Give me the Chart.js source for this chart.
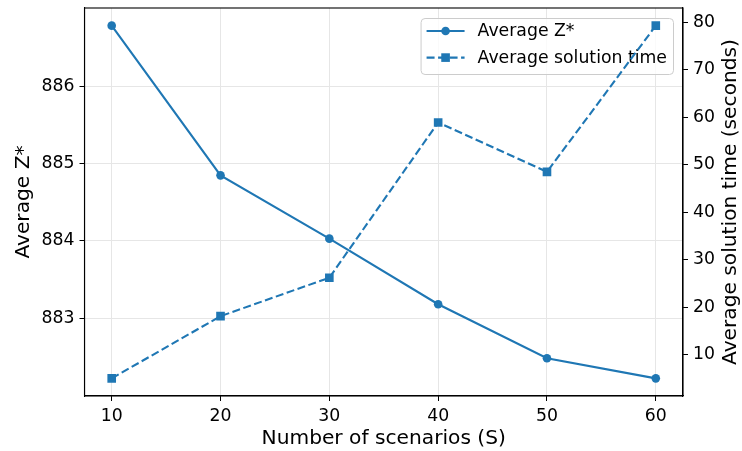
<!DOCTYPE html>
<html>
<head>
<meta charset="utf-8">
<script src="https://cdn.jsdelivr.net/npm/chart.js@4.4.1/dist/chart.umd.min.js"></script>
<style>
  html, body { margin: 0; padding: 0; background: #fff; }
  #wrap { width: 742px; height: 451px; }
</style>
</head>
<body>
<div id="wrap"><canvas id="chart" width="742" height="451"></canvas></div>
<script>
    // values
    const scenarios = [10, 20, 30, 40, 50, 60];
    const avgZ = [886.79, 884.85, 884.03, 883.18, 882.48, 882.22];
    const avgTime = [5.0, 18.1, 26.2, 58.9, 48.5, 79.3];

    const xTicks = [10, 20, 30, 40, 50, 60];
    const zTicks = [883, 884, 885, 886];
    const timeTicks = [10, 20, 30, 40, 50, 60, 70, 80];

    const blue = '#1f77b4';
    const font = 'DejaVu Sans';
    const rightTitle = 'Average solution time (seconds)';

    // matplotlib style 5% autoscale margins
    function padded(vals) {
        const lo = Math.min(...vals), hi = Math.max(...vals);
        const m = (hi - lo) * 0.05;
        return { min: lo - m, max: hi + m };
    }
    const xr = padded(scenarios);
    const zr = padded(avgZ);
    const tr = padded(avgTime);

    const fixTicks = (list) => (scale) => {
        scale.ticks = list.map(v => ({ value: v }));
    };

    const fitY = (w) => (s) => {
        s.width = w;
        s.paddingTop = 0;
        s.paddingBottom = 0;
    };

    // legend sits under the lines, frame + right title on top
    const framePlugin = {
        id: 'frame',
        beforeDatasetsDraw(chart) {
            const ctx = chart.ctx;
            const a = chart.chartArea;
            ctx.save();
            ctx.font = '17.3px "' + font + '"';
            const sets = chart.data.datasets;
            let tw = 0;
            sets.forEach(d => { tw = Math.max(tw, ctx.measureText(d.label).width); });
            const w = 6 + 38 + 13 + tw + 6;
            const h = 56;
            const x0 = a.right - 10 - w;
            const y0 = a.top + 10;
            ctx.fillStyle = 'rgba(255,255,255,0.8)';
            ctx.strokeStyle = '#cccccc';
            ctx.lineWidth = 1;
            ctx.beginPath();
            ctx.roundRect(x0 + 0.5, y0 + 0.5, w, h, 4);
            ctx.fill();
            ctx.stroke();

            sets.forEach((d, i) => {
                const cy = y0 + 13 + i * 26.6;
                ctx.strokeStyle = d.borderColor;
                ctx.lineWidth = d.borderWidth;
                ctx.setLineDash(d.borderDash || []);
                ctx.beginPath();
                ctx.moveTo(x0 + 6, cy);
                ctx.lineTo(x0 + 44, cy);
                ctx.stroke();
                ctx.setLineDash([]);
                ctx.fillStyle = d.borderColor;
                const mx = x0 + 25;
                if (d.pointStyle === 'rect') {
                    const s = d.pointRadius * Math.SQRT1_2;
                    ctx.fillRect(mx - s, cy - s, 2 * s, 2 * s);
                } else {
                    ctx.beginPath();
                    ctx.arc(mx, cy, d.pointRadius, 0, Math.PI * 2);
                    ctx.fill();
                }
                ctx.fillStyle = '#000';
                ctx.textBaseline = 'middle';
                ctx.fillText(d.label, x0 + 57, cy + 1);
            });
            ctx.restore();
        },
        afterDraw(chart) {
            const ctx = chart.ctx;
            const a = chart.chartArea;
            ctx.save();
            ctx.strokeStyle = '#000';
            ctx.lineWidth = 1.1;
            ctx.strokeRect(a.left, a.top, a.right - a.left, a.bottom - a.top);

            // right axis title reads bottom-to-top like matplotlib
            ctx.translate(731, (a.top + a.bottom) / 2);
            ctx.rotate(-Math.PI / 2);
            ctx.font = '20.2px "' + font + '"';
            ctx.fillStyle = '#000';
            ctx.textAlign = 'center';
            ctx.textBaseline = 'middle';
            ctx.fillText(rightTitle, 0, 0);
            ctx.restore();
        }
    };

    const ctx = document.getElementById('chart').getContext('2d');
    new Chart(ctx, {
        type: 'line',
        data: {
            datasets: [{
                label: 'Average Z*',
                data: scenarios.map((s, i) => ({ x: s, y: avgZ[i] })),
                yAxisID: 'y',
                borderColor: blue,
                backgroundColor: blue,
                borderWidth: 2.1,
                pointStyle: 'circle',
                pointRadius: 4.3,
                pointBorderWidth: 0,
                tension: 0
            }, {
                label: 'Average solution time',
                data: scenarios.map((s, i) => ({ x: s, y: avgTime[i] })),
                yAxisID: 'y1',
                borderColor: blue,
                backgroundColor: blue,
                borderWidth: 2.1,
                borderDash: [8, 3.5],
                pointStyle: 'rect',
                pointRadius: 6.1,
                pointBorderWidth: 0,
                tension: 0
            }]
        },
        options: {
            responsive: false,
            animation: false,
            layout: { padding: { top: 8, left: 0, right: 0, bottom: 0 } },
            plugins: {
                legend: { display: false },
                tooltip: { enabled: false }
            },
            scales: {
                x: {
                    type: 'linear',
                    min: xr.min,
                    max: xr.max,
                    afterBuildTicks: fixTicks(xTicks),
                    afterFit: (s) => { s.height = 55; s.paddingLeft = 0; s.paddingRight = 0; },
                    grid: { color: '#e6e6e6', tickColor: '#000', tickLength: 5, lineWidth: 1 },
                    border: { color: '#000', width: 1.1 },
                    ticks: { color: '#000', padding: 5, maxRotation: 0, font: { family: font, size: 17.3 } },
                    title: {
                        display: true,
                        text: 'Number of scenarios (S)',
                        color: '#000',
                        padding: { top: 0, bottom: 0 },
                        font: { family: font, size: 20.2 }
                    }
                },
                y: {
                    position: 'left',
                    min: zr.min,
                    max: zr.max,
                    afterBuildTicks: fixTicks(zTicks),
                    afterFit: fitY(84.5),
                    grid: { color: '#e6e6e6', tickColor: '#000', tickLength: 5, lineWidth: 1 },
                    border: { color: '#000', width: 1.1 },
                    ticks: { color: '#000', padding: 5, font: { family: font, size: 17.3 } },
                    title: {
                        display: true,
                        text: 'Average Z*',
                        color: '#000',
                        padding: { top: 12, bottom: 0 },
                        font: { family: font, size: 20.2 }
                    }
                },
                y1: {
                    position: 'right',
                    min: tr.min,
                    max: tr.max,
                    afterBuildTicks: fixTicks(timeTicks),
                    afterFit: fitY(59),
                    grid: { drawOnChartArea: false, tickColor: '#000', tickLength: 5 },
                    border: { color: '#000', width: 1.1 },
                    ticks: { color: '#000', padding: 5, font: { family: font, size: 17.3 } },
                    title: { display: false }
                }
            }
        },
        plugins: [framePlugin]
    });
</script>
</body>
</html>
